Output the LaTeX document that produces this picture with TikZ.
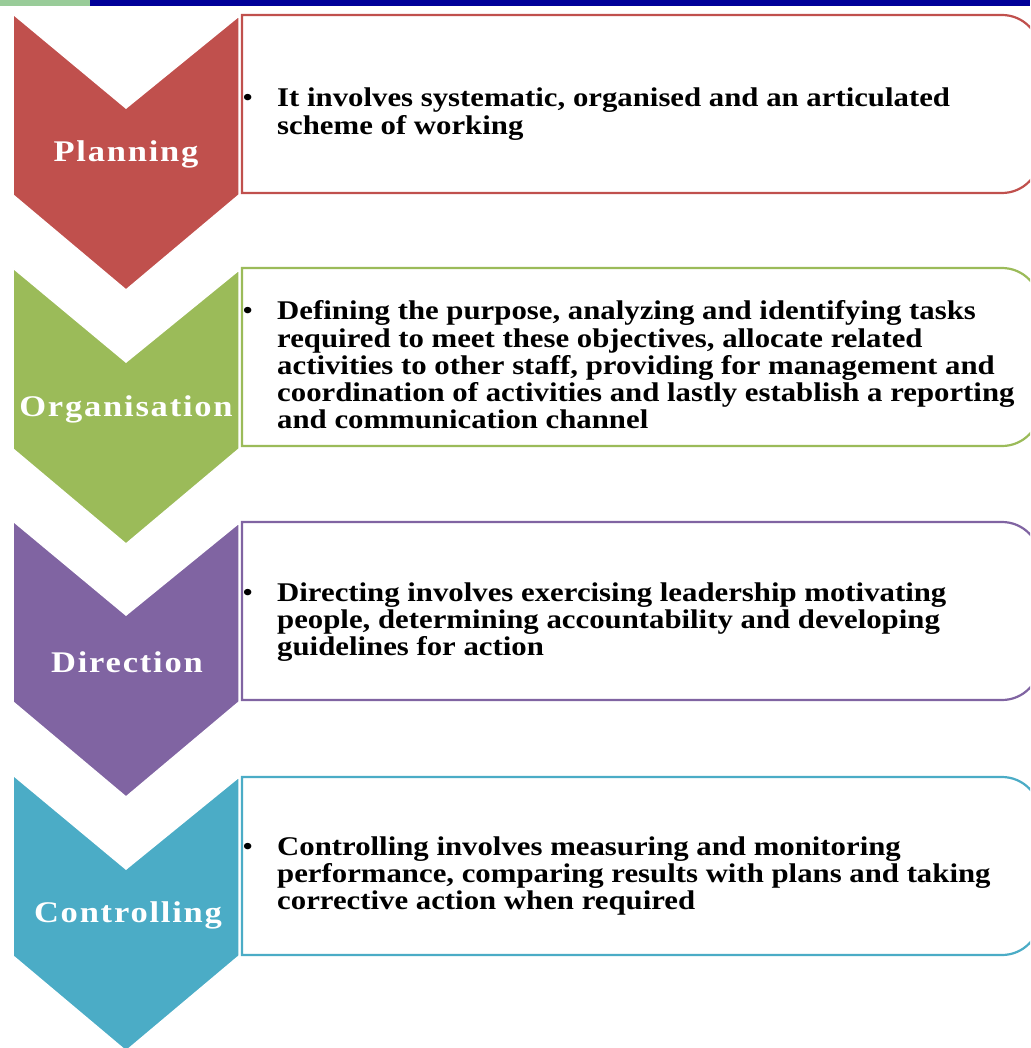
\documentclass[tikz,border=0pt]{standalone}
\usepackage{fontspec}
\setmainfont{Liberation Serif}
\newfontfamily\labelfont[LetterSpace=6, FakeStretch=1.15]{Liberation Serif}
\newfontfamily\bodyfont[FakeStretch=1.14]{Liberation Serif}
\usetikzlibrary{calc}
\definecolor{planred}{HTML}{C0504D}
\definecolor{orggreen}{HTML}{9BBB59}
\definecolor{dirpurple}{HTML}{8064A2}
\definecolor{ctrlblue}{HTML}{4BACC6}
\definecolor{barblue}{HTML}{000099}
\definecolor{bargreen}{HTML}{99CC99}
\newcommand{\chevron}[2]{ \draw[fill=#1, draw=white, line width=1.5pt] (13,#2) -- (126,#2+94) -- (239,#2+2) -- (239,#2+181) -- (126,#2+276) -- (13,#2+181) -- cycle;}
\newcommand{\panel}[2]{ \draw[draw=#1, line width=2.2pt, fill=white] (242,#2) -- (1002,#2) arc[start angle=-90, end angle=0, radius=38] -- (1040,#2+140) arc[start angle=0, end angle=90, radius=38] -- (242,#2+178) -- cycle;}
\newcommand{\bul}{\llap{\mdseries\textbullet\hspace{24pt}}}

\begin{document}
\begin{tikzpicture}[x=1pt, y=-1pt,
    stagelabel/.style={text=white, inner sep=0pt, font=\labelfont\bfseries\fontsize{30}{31}\selectfont},
    stagetext/.style={anchor=west, align=left, inner sep=0pt, font=\bodyfont\bfseries\fontsize{27}{27.3}\selectfont}]
        \useasboundingbox (0,0) rectangle (1030,1048);
        \clip (0,0) rectangle (1030,1048);
        % top bar
        \fill[bargreen] (0,0) rectangle (90,6);
        \fill[barblue] (90,0) rectangle (1030,6);
        % boxes
        \panel{planred}{15}
        \panel{orggreen}{268}
        \panel{dirpurple}{522}
        \panel{ctrlblue}{777}
        % chevrons
        \chevron{planred}{14}
        \chevron{orggreen}{268}
        \chevron{dirpurple}{521}
        \chevron{ctrlblue}{775}
        % labels
        \node[stagelabel] (planning) at (126,154) {Planning};
        \node[stagelabel] (organisation) at (126,409) {Organisation};
        \node[stagelabel] (direction) at (127,662) {Direction};
        \node[stagelabel] (controlling) at (128,915) {Controlling};
        % texts
        \node[stagetext] (planningtext) at (277,114) {\bul It involves systematic, organised and an articulated\\scheme of working};
        \node[stagetext] (organisationtext) at (277,365) {\bul Defining the purpose, analyzing and identifying tasks\\required to meet these objectives, allocate related\\activities to other staff, providing for management and\\coordination of activities and lastly establish a reporting\\and communication channel};
        \node[stagetext] (directiontext) at (277,622) {\bul Directing involves exercising leadership motivating\\people, determining accountability and developing\\guidelines for action};
        \node[stagetext] (controllingtext) at (277,876) {\bul Controlling involves measuring and monitoring\\performance, comparing results with plans and taking\\corrective action when required};
    \end{tikzpicture}
\end{document}
